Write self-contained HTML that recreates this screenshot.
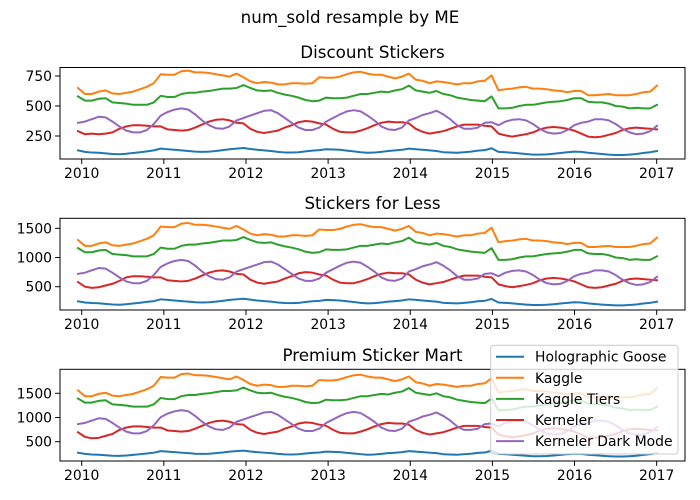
<!DOCTYPE html>
<html><head><meta charset="utf-8"><style>
body{margin:0;background:#fff}
svg{display:block;font-family:"DejaVu Sans","Liberation Sans",sans-serif}
</style></head><body>
<svg id="fig" width="700" height="500" viewBox="0 0 700 500">
<rect width="700" height="500" fill="#fff"/>
<text x="350" y="23" text-anchor="middle" font-size="16.7">num_sold resample by ME</text>
</svg>
<script>
const seriesNames = ["Holographic Goose","Kaggle","Kaggle Tiers","Kerneler","Kerneler Dark Mode"];
const colors = ["#1f77b4","#ff7f0e","#2ca02c","#d62728","#9467bd"];
const xYears = [2010,2011,2012,2013,2014,2015,2016,2017];
const panelTitles = ["Discount Stickers","Stickers for Less","Premium Sticker Mart"];
const yTicks1 = [250,500,750];
const yTicks2 = [500,1000,1500];
const yTicks3 = [500,1000,1500];

const ds_goose = [130,118,112,110,105,100,98,102,108,115,122,130,145,140,135,130,125,120,118,120,125,132,140,145,150,142,135,130,125,118,113,112,115,122,128,132,140,138,135,128,122,115,110,112,118,125,130,135,145,140,135,130,125,115,112,110,115,120,128,132,148,118,115,110,105,100,95,95,97,102,108,115,120,118,110,105,100,95,92,92,95,100,108,115,125];
const ds_kaggle = [650,600,600,620,630,605,600,610,620,640,660,690,765,760,760,790,795,780,780,775,765,755,745,770,740,705,690,700,695,680,680,690,690,685,690,740,735,735,745,765,780,785,770,760,760,745,730,745,770,720,710,690,705,700,690,680,690,690,705,710,755,630,640,645,655,660,645,645,640,630,625,615,625,625,590,590,595,600,590,590,590,600,615,620,670];
const ds_tiers = [580,545,545,560,565,530,525,520,510,510,510,530,585,575,575,600,610,610,620,625,635,645,645,650,675,650,630,625,630,610,595,585,570,550,540,545,570,565,565,570,585,600,600,610,620,615,630,640,670,630,620,610,625,600,590,570,560,550,545,540,580,480,480,485,500,510,510,520,530,535,540,550,565,565,535,530,530,520,500,495,480,485,480,480,510];
const ds_kerneler = [290,265,270,265,270,280,310,330,340,340,335,330,330,305,300,295,300,320,345,370,385,390,380,360,355,310,285,275,285,295,320,340,365,375,370,355,345,310,285,280,280,295,315,340,360,370,365,365,355,310,285,270,280,290,310,330,345,345,345,335,330,270,255,245,255,265,280,305,320,325,320,310,295,270,245,240,245,260,275,300,315,320,315,310,305];
const ds_dark = [360,370,390,410,405,370,330,295,280,280,300,350,420,450,470,480,470,430,380,340,315,310,330,380,400,420,440,460,465,440,400,360,320,300,300,320,370,400,430,455,465,455,420,380,330,305,300,320,380,400,425,440,460,430,390,340,310,310,320,360,365,340,370,385,390,380,350,310,280,270,275,300,340,360,370,390,390,380,350,310,280,265,270,290,335];

const sl_goose = [250,230,220,216,206,196,192,200,212,226,240,254,284,274,264,254,244,234,230,234,244,258,274,284,294,278,264,254,244,230,220,218,224,238,250,258,274,270,264,250,238,224,214,218,230,244,254,264,284,274,264,254,244,224,218,214,224,234,250,258,290,230,224,214,204,194,186,186,190,200,212,224,234,230,214,204,194,186,180,180,186,196,212,224,244];
const sl_kaggle = [1300,1200,1200,1240,1260,1210,1200,1220,1240,1280,1320,1380,1530,1520,1520,1580,1590,1560,1560,1550,1530,1510,1490,1540,1480,1410,1380,1400,1390,1360,1360,1380,1380,1370,1380,1480,1470,1470,1490,1530,1560,1570,1540,1520,1520,1490,1460,1490,1540,1440,1420,1380,1410,1400,1380,1360,1380,1380,1410,1420,1510,1260,1280,1290,1310,1320,1290,1290,1280,1260,1250,1230,1250,1250,1180,1180,1190,1200,1180,1180,1180,1200,1230,1240,1340];
const sl_tiers = [1160,1090,1090,1120,1130,1060,1050,1040,1020,1020,1020,1060,1170,1150,1150,1200,1220,1220,1240,1250,1270,1290,1290,1300,1350,1300,1260,1250,1260,1220,1190,1170,1140,1100,1080,1090,1140,1130,1130,1140,1170,1200,1200,1220,1240,1230,1260,1280,1340,1260,1240,1220,1250,1200,1180,1140,1120,1100,1090,1080,1160,960,960,970,1000,1020,1020,1040,1060,1070,1080,1100,1130,1130,1070,1060,1060,1040,1000,990,960,970,960,960,1020];
const sl_kerneler = [580,500,480,490,520,550,600,660,680,680,670,660,660,610,600,590,600,640,690,740,770,780,760,720,710,620,570,550,570,590,640,680,730,750,740,710,690,620,570,560,560,590,630,680,720,740,730,730,710,620,570,540,560,580,620,660,690,690,690,670,660,540,510,490,510,530,560,610,640,650,640,620,590,540,490,480,490,520,550,600,630,640,630,620,610];
const sl_dark = [720,740,780,820,810,740,660,590,560,560,600,700,840,900,940,960,940,860,760,680,630,620,660,760,800,840,880,920,930,880,800,720,640,600,600,640,740,800,860,910,930,910,840,760,660,610,600,640,760,800,850,880,920,860,780,680,620,620,640,720,730,680,740,770,780,760,700,620,560,540,550,600,680,720,740,780,780,760,700,620,560,530,540,580,670];

const pm_goose = [273,248,235,231,220,210,206,214,227,242,256,273,305,294,284,273,263,252,248,252,263,277,294,305,315,298,284,273,263,248,237,235,242,256,269,277,294,290,284,269,256,242,231,235,248,263,273,284,305,294,284,273,263,242,235,231,242,252,269,277,311,248,242,231,221,210,200,200,204,214,227,242,252,248,231,221,210,200,193,193,200,210,227,242,263];
const pm_kaggle = [1560,1440,1440,1488,1512,1452,1440,1464,1488,1536,1584,1656,1836,1824,1824,1896,1908,1872,1872,1860,1836,1812,1788,1848,1776,1692,1656,1680,1668,1632,1632,1656,1656,1644,1656,1776,1764,1764,1788,1836,1872,1884,1848,1824,1824,1788,1752,1788,1848,1728,1704,1656,1692,1680,1656,1632,1656,1656,1692,1704,1812,1512,1536,1548,1572,1584,1548,1548,1536,1512,1500,1476,1500,1500,1416,1416,1428,1440,1416,1416,1416,1440,1476,1488,1608];
const pm_tiers = [1392,1308,1308,1344,1356,1272,1260,1248,1224,1224,1224,1272,1404,1380,1380,1440,1464,1464,1488,1500,1524,1548,1548,1560,1620,1560,1512,1500,1512,1464,1428,1404,1368,1320,1296,1308,1368,1356,1356,1368,1404,1440,1440,1464,1488,1476,1512,1536,1608,1512,1488,1464,1500,1440,1416,1368,1344,1320,1308,1296,1392,1152,1152,1164,1200,1224,1224,1248,1272,1284,1296,1320,1356,1356,1284,1272,1272,1248,1200,1188,1152,1164,1152,1152,1224];
const pm_kerneler = [696,600,570,580,620,660,744,792,816,816,804,792,792,732,720,708,720,768,828,888,924,936,912,864,852,744,684,660,684,708,768,816,876,900,888,852,828,744,684,672,672,708,756,816,864,888,876,876,852,744,684,648,672,696,744,792,828,828,828,804,792,648,612,588,612,636,672,732,768,780,768,744,708,648,588,576,588,624,660,720,756,768,756,744,732];
const pm_dark = [864,888,936,984,972,888,792,708,672,672,720,840,1008,1080,1128,1152,1128,1032,912,816,756,744,792,912,960,1008,1056,1104,1116,1056,960,864,768,720,720,768,888,960,1032,1092,1116,1092,1008,912,792,732,720,768,912,960,1020,1056,1104,1032,936,816,744,744,768,864,876,816,888,924,936,912,840,744,672,648,660,720,816,864,888,936,936,912,840,744,672,636,648,696,804];

const NS = "http://www.w3.org/2000/svg";
const svg = document.getElementById("fig");
function el(tag, attrs, parent){const e=document.createElementNS(NS,tag);for(const k in attrs)e.setAttribute(k,attrs[k]);(parent||svg).appendChild(e);return e;}

const AX_L=60, AX_R=685;
const X0=78, X1=657; // first & last sample
const YEAR0=81.7, YEARW=82.14;
function xScaleIdx(i,n){return X0+(X1-X0)*i/(n-1);}
function xYear(y){return YEAR0+(y-2010)*YEARW;}

const panels = [
  {top:67.5,bottom:159,vA:250,pA:136,vB:750,pB:76,ticks:yTicks1,data:[ds_goose,ds_kaggle,ds_tiers,ds_kerneler,ds_dark],title:panelTitles[0],ty:58},
  {top:218.3,bottom:310,vA:500,pA:286.7,vB:1500,pB:228.3,ticks:yTicks2,data:[sl_goose,sl_kaggle,sl_tiers,sl_kerneler,sl_dark],title:panelTitles[1],ty:209},
  {top:369.3,bottom:461,vA:500,pA:441.7,vB:1500,pB:393.3,ticks:yTicks3,data:[pm_goose,pm_kaggle,pm_tiers,pm_kerneler,pm_dark],title:panelTitles[2],ty:361}
];

panels.forEach((p,pi)=>{
  const g=el("g",{});
  
  
  const yScale=v=>p.pA+(v-p.vA)*(p.pB-p.pA)/(p.vB-p.vA);
  const t=el("text",{x:(AX_L+AX_R)/2,y:p.ty,"text-anchor":"middle","font-size":"16.7"},g);
  t.textContent=p.title;
  
  
  p.data.forEach((arr,si)=>{
    const pts=arr.map((v,i)=>xScaleIdx(i,arr.length).toFixed(2)+","+yScale(v).toFixed(2)).join(" ");
    const pl=el("polyline",{points:pts,fill:"none",stroke:colors[si],"stroke-width":"2","stroke-linejoin":"round","stroke-linecap":"square"},g);
    
    
  });
  const frame=el("rect",{x:AX_L,y:p.top,width:AX_R-AX_L,height:p.bottom-p.top,fill:"none",stroke:"#000","stroke-width":"1"},g);
  
  
  xYears.forEach(yr=>{
    const x=xYear(yr);
    el("line",{x1:x,x2:x,y1:p.bottom,y2:p.bottom+4.9,stroke:"#000","stroke-width":"1"},g);
    const lt=el("text",{x:x,y:p.bottom+19,"text-anchor":"middle","font-size":"13.9"},g);
    lt.textContent=yr;
    
    
  });
  p.ticks.forEach(v=>{
    const y=yScale(v);
    el("line",{x1:AX_L-4.9,x2:AX_L,y1:y,y2:y,stroke:"#000","stroke-width":"1"},g);
    const lt=el("text",{x:AX_L-8,y:y+5,"text-anchor":"end","font-size":"13.9"},g);
    lt.textContent=v;
    
    
  });
});

// legend
const lg=el("g",{});


el("rect",{x:490.7,y:345.3,width:187.3,height:108.7,rx:3,fill:"#fff","fill-opacity":"0.8",stroke:"#cccccc","stroke-width":"1"},lg);
seriesNames.forEach((n,i)=>{
  const y=356.7+i*21.1;
  const e=el("g",{},lg);
  
  
  el("line",{x1:496,x2:524,y1:y,y2:y,stroke:colors[i],"stroke-width":"2"},e);
  const tx=el("text",{x:535,y:y+5,"font-size":"13.9"},e);
  tx.textContent=n;
});
</script>
</body></html>
